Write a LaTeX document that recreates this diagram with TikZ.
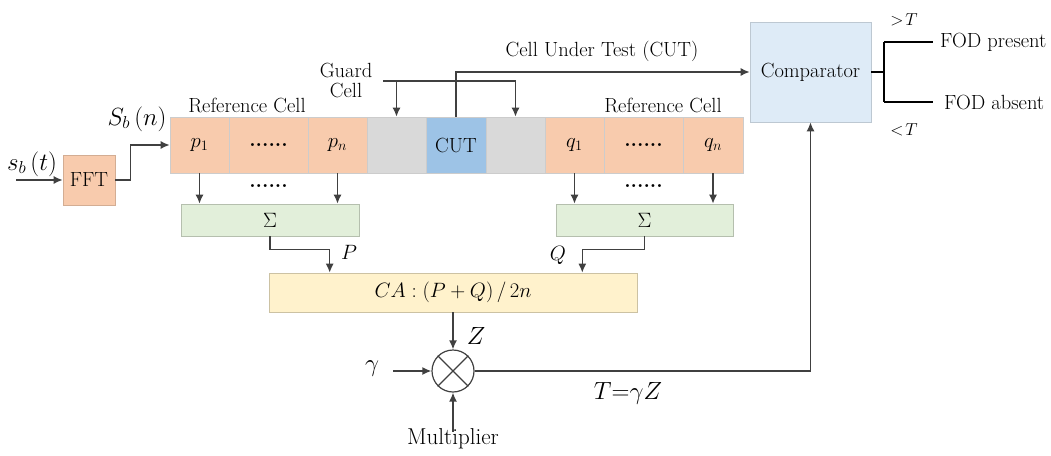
\documentclass[tikz,border=0pt]{standalone}
\usepackage{fontspec}
\usetikzlibrary{arrows.meta}
\definecolor{salmon}{HTML}{F8CBAD}
\definecolor{gcell}{HTML}{D9D9D9}
\definecolor{cutc}{HTML}{9DC3E6}
\definecolor{sumc}{HTML}{E2EFDA}
\definecolor{cac}{HTML}{FFF2CC}
\definecolor{compc}{HTML}{DEEBF7}
\definecolor{ln}{HTML}{404040}
\begin{document}
\begin{tikzpicture}[x=1pt,y=-1pt,
  every node/.style={font=\fontsize{20.5}{23}\selectfont},
  arr/.style={draw=ln, line width=1.5pt, -{Latex[length=9pt,width=8pt]}},
  wire/.style={draw=ln, line width=1.5pt},
  bwire/.style={draw=black, line width=1.8pt},
  cell/.style={draw=white!80!black, line width=0.6pt, minimum height=56pt, inner sep=0pt},
  box/.style={line width=0.6pt, inner sep=0pt},
  lab/.style={inner sep=0pt}]
\useasboundingbox (0,0) rectangle (1051,455);
% FFT
\node[box, fill=salmon, draw=salmon!85!black, minimum width=52pt, minimum height=50pt] (fft) at (89,180) {FFT};
% cell row
\node[cell, fill=salmon, minimum width=59pt] (p1) at (199.5,145) {$p_{1}$};
\node[cell, fill=salmon, minimum width=79pt] (d1) at (268.5,145) {\textbf{......}};
\node[cell, fill=salmon, minimum width=59pt] (pn) at (337.5,145) {$p_{n}$};
\node[cell, fill=gcell, minimum width=59pt] (g1) at (396.5,145) {};
\node[cell, fill=cutc, minimum width=60pt] (cut) at (456,145) {CUT};
\node[cell, fill=gcell, minimum width=59pt] (g2) at (515.5,145) {};
\node[cell, fill=salmon, minimum width=59pt] (q1) at (574.5,145) {$q_{1}$};
\node[cell, fill=salmon, minimum width=79pt] (d2) at (643.5,145) {\textbf{......}};
\node[cell, fill=salmon, minimum width=60pt] (qn) at (713,145) {$q_{n}$};
% labels above row
\node[lab] (rl) at (247,105) {Reference Cell};
\node[lab] (rr) at (663,105) {Reference Cell};
\node[lab, align=center] (gl) at (346,80) {Guard\\[-3pt]Cell};
\node[lab] (cutl) at (602,51) {Cell Under Test (CUT)};
\node[lab] (sbn) at (137,119) {\fontsize{23}{26}\selectfont$S_b\left(n\right)$};
\node[lab] (sbt) at (32,164) {\fontsize{23}{26}\selectfont$s_b\left(t\right)$};
% dots between arrows
\node[lab] (dl) at (268.5,186) {\textbf{......}};
\node[lab] (dr) at (643.5,186) {\textbf{......}};
% sum boxes
\node[box, fill=sumc, draw=sumc!80!black, minimum width=178pt, minimum height=32pt] (sl) at (270,220) {$\Sigma$};
\node[box, fill=sumc, draw=sumc!80!black, minimum width=177pt, minimum height=32pt] (sr) at (644.5,220) {$\Sigma$};
% CA box
\node[box, fill=cac, draw=cac!80!black, minimum width=368pt, minimum height=39pt] (ca) at (453,292.5) {$CA:\left(P+Q\right)/\,2n$};
% multiplier
\node[draw=ln, line width=1.2pt, circle, minimum size=42pt, inner sep=0pt] (mul) at (453,371) {};
\draw[ln, line width=1.2pt] (mul.north west) -- (mul.south east) (mul.north east) -- (mul.south west);
\node[lab] (mt) at (453,439) {\fontsize{23}{26}\selectfont Multiplier};
\node[lab] (gam) at (372,369) {\fontsize{24}{26}\selectfont$\gamma$};
\node[lab] (zl) at (476,336) {\fontsize{24}{26}\selectfont$Z$};
\node[lab] (tl) at (628,393) {\fontsize{25}{28}\selectfont$T{=}\gamma Z$};
\node[lab] (pl) at (349,252) {$P$};
\node[lab] (ql) at (558,255) {$Q$};
% comparator
\node[box, fill=compc, draw=compc!85!black, minimum width=121pt, minimum height=100pt] (comp) at (810.5,72) {Comparator};
\node[lab, anchor=west] (fodp) at (940,42) {FOD present};
\node[lab, anchor=west] (foda) at (944,102) {FOD absent};
\node[lab] (gt) at (904,20) {\fontsize{19}{21}\selectfont$>\!T$};
\node[lab] (lt) at (904,130) {\fontsize{19}{21}\selectfont$<\!T$};
% coordinates
\coordinate (in) at (16,180);
\coordinate (gs) at (383,81);
\coordinate (gin) at (393,371);
\coordinate (br) at (884,72);
% connectors
\draw[arr] (in) -- (fft.west);
\draw[arr] (fft.east) -- ++(15,0) |- (p1.west);
\draw[wire] (gs) -- (gs -| g2);
\draw[arr] (gs -| g1) -- (g1.north);
\draw[arr] (gs -| g2) -- (g2.north);
\draw[arr] (cut.north) |- (comp.west);
\draw[arr] (p1.south) -- (p1.south |- sl.north);
\draw[arr] (pn.south) -- (pn.south |- sl.north);
\draw[arr] (q1.south) -- (q1.south |- sr.north);
\draw[arr] (qn.south) -- (qn.south |- sr.north);
\draw[arr] (sl.south) -- ++(0,13) -| ([xshift=61pt]ca.north west);
\draw[arr] (sr.south) -- ++(0,13) -| ([xshift=-55pt]ca.north east);
\draw[arr] (ca.south) -- (mul.north);
\draw[arr] (gin) -- (mul.west);
\draw[arr] ([yshift=-3pt]mt.north) -- (mul.south);
\draw[arr] (mul.east) -| (comp.south);
\draw[bwire] (comp.east) -- (br);
\draw[bwire] (br |- fodp.west) -- (br |- foda.west);
\draw[bwire] (br |- fodp.west) -- ([xshift=-7pt]fodp.west);
\draw[bwire] (br |- foda.west) -- ([xshift=-11pt]foda.west);
\end{tikzpicture}
\end{document}
